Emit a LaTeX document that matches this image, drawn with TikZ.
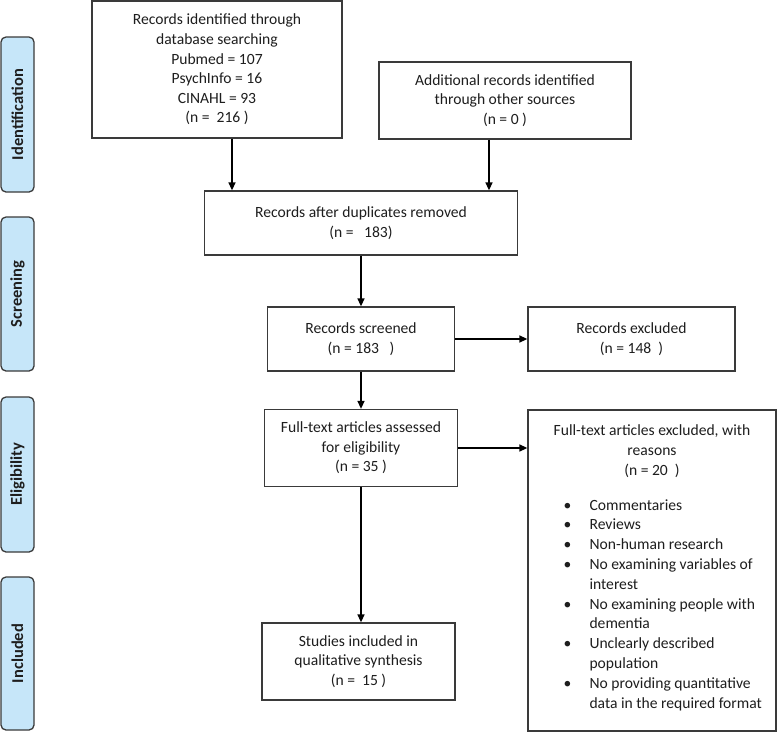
\documentclass[tikz,border=0pt]{standalone}
\usepackage{fontspec}
\setmainfont{Carlito}
\usetikzlibrary{arrows.meta,calc}
\definecolor{sidefill}{HTML}{C6E6F9}
\definecolor{edge}{HTML}{3A3A3A}
\definecolor{ink}{HTML}{1E1E1E}
\begin{document}
\begin{tikzpicture}[x=1pt,y=-1pt,
  box/.style={draw=edge,line width=1.3pt,fill=white,inner sep=0pt,align=center,text=ink,font=\fontsize{15.6}{19.6}\selectfont},
  txt/.style={inner sep=0pt,text=ink,font=\fontsize{15.6}{19.8}\selectfont},
  side/.style={draw=edge,line width=1.3pt,fill=sidefill,rounded corners=5pt,minimum height=33pt,inner sep=0pt,rotate=90,text=ink,font=\bfseries\fontsize{16.5}{18}\selectfont},
  arr/.style={draw=black,line width=1.4pt,-{Triangle[length=8pt,width=7pt]}}]
\useasboundingbox (0,0) rectangle (777,732);

% side labels
\node[side,minimum width=155pt] (sid) at (17.5,114.5) {Identification};
\node[side,minimum width=154pt] (ssc) at (17.5,294) {Screening};
\node[side,minimum width=155pt] (sel) at (17.5,474.5) {Eligibility};
\node[side,minimum width=153pt] (sin) at (17.5,653.5) {Included};

% boxes
\node[box,minimum width=250pt,minimum height=137pt] (b1) at (217,69.5)
  {Records identified through\\database searching\\Pubmed = 107\\PsychInfo = 16\\CINAHL = 93\\(n = ~216 )};
\node[box,minimum width=252pt,minimum height=77pt] (b2) at (505,100.5)
  {Additional records identified\\through other sources\\(n = 0 )};
\node[box,minimum width=313pt,minimum height=64pt] (dup) at (361,223)
  {Records after duplicates removed\\(n = ~~183)};
\node[box,minimum width=187pt,minimum height=64pt] (scr) at (361,339)
  {Records screened\\(n = 183 ~~)};
\node[box,minimum width=207pt,minimum height=64pt] (ex1) at (631.5,339)
  {Records excluded\\(n = 148 ~)};
\node[box,minimum width=193pt,minimum height=77pt] (ft) at (361,448)
  {Full-text articles assessed\\for eligibility\\(n = 35 )};
\node[box,minimum width=248pt,minimum height=321pt] (ex2) at (652,570.5) {};
\node[txt,align=center] (ex2h) at ($(ex2.north)+(0,42)$)
  {Full-text articles excluded, with\\reasons\\(n = 20 ~)};
\node[txt,align=left,anchor=west] (ex2l) at ($(ex2.west)+(36,34.5)$)
  {\makebox[26pt][l]{\textbullet}Commentaries\\
   \makebox[26pt][l]{\textbullet}Reviews\\
   \makebox[26pt][l]{\textbullet}Non-human research\\
   \makebox[26pt][l]{\textbullet}No examining variables of\\
   \hspace*{26pt}interest\\
   \makebox[26pt][l]{\textbullet}No examining people with\\
   \hspace*{26pt}dementia\\
   \makebox[26pt][l]{\textbullet}Unclearly described\\
   \hspace*{26pt}population\\
   \makebox[26pt][l]{\textbullet}No providing quantitative\\
   \hspace*{26pt}data in the required format};
\node[box,minimum width=193pt,minimum height=77pt] (fin) at (358.5,661.5)
  {Studies included in\\qualitative synthesis\\(n = ~15 )};

% connectors
\draw[arr] (b1.south -| 232,0) -- (dup.north -| 232,0);
\draw[arr] (b2.south -| 489,0) -- (dup.north -| 489,0);
\draw[arr] (dup.south) -- (scr.north);
\draw[arr] (scr.east) -- (ex1.west);
\draw[arr] (scr.south) -- (ft.north);
\draw[arr] (ft.east) -- (ex2.west |- ft.east);
\draw[arr] (ft.south) -- (ft.south |- fin.north);
\end{tikzpicture}
\end{document}
